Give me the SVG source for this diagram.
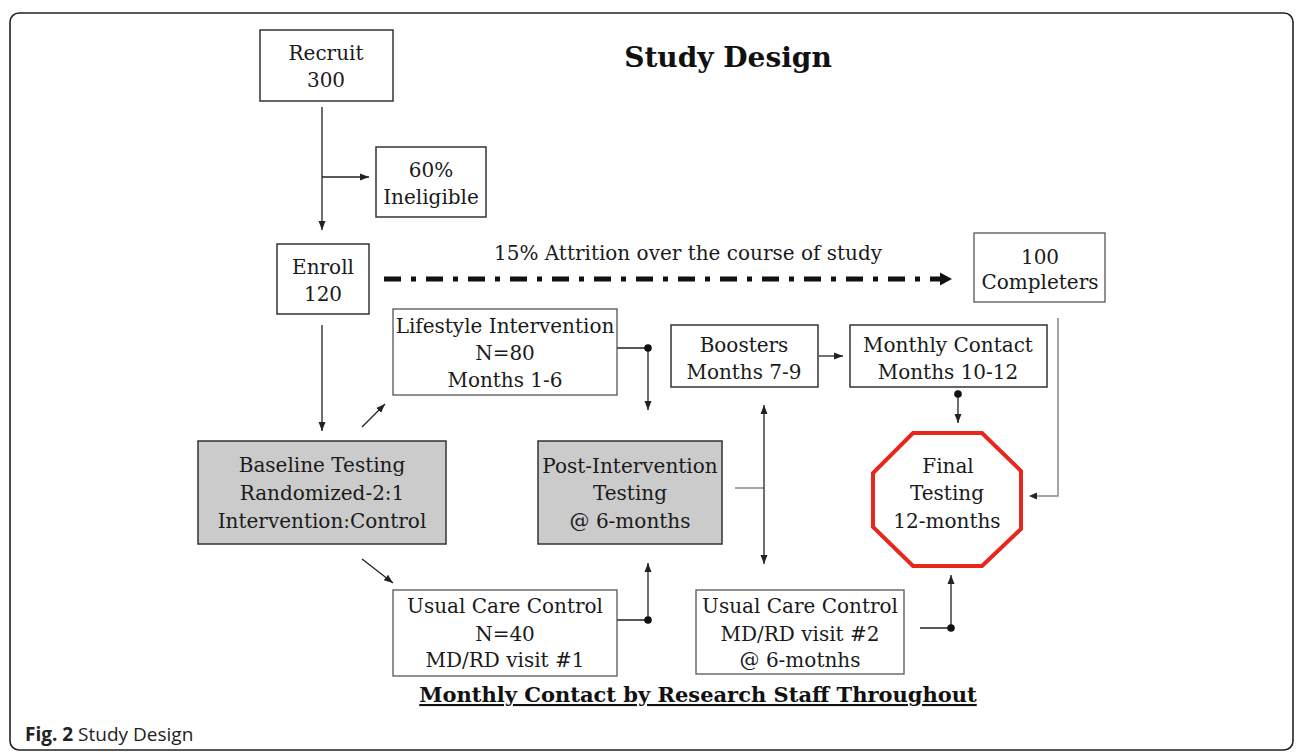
<svg xmlns="http://www.w3.org/2000/svg" width="1296" height="752" viewBox="0 0 1296 752">
<defs>
<marker id="ah" markerUnits="userSpaceOnUse" markerWidth="10" markerHeight="10" viewBox="0 0 10 10" refX="9" refY="5" orient="auto">
<path d="M0,1.5 L9,5 L0,8.5 Z" fill="#222"/>
</marker>
<style>
.box{fill:#fff;stroke:#333;stroke-width:1.5}
.boxl{fill:#fff;stroke:#555;stroke-width:1.3}
.gray{fill:#cbcbcb;stroke:#333;stroke-width:1.5}
.t{font-family:"DejaVu Serif","Liberation Serif",serif;font-size:20px;fill:#1a1a1a;text-anchor:middle}
.c{fill:none;stroke:#222;stroke-width:1.3}
.cg{fill:none;stroke:#888;stroke-width:1.5}
.dot{fill:#111}
</style>
</defs>
<rect x="10" y="13" width="1283" height="737" rx="9" fill="#fff" stroke="#222" stroke-width="1.6"/>
<text x="728" y="67" style="font-family:'DejaVu Serif','Liberation Serif',serif;font-weight:bold;font-size:28px;fill:#111;text-anchor:middle">Study Design</text>

<g id="connectors">
<path class="c" d="M322,107 V230" marker-end="url(#ah)"/>
<path class="c" d="M322,177 H369" marker-end="url(#ah)"/>
<path class="c" d="M322,325 V431" marker-end="url(#ah)"/>
<path fill="none" stroke="#111" stroke-width="5" stroke-dasharray="17 10 5 10" d="M384,279 H940"/>
<path d="M940,272.5 L952,279 L940,285.5 Z" fill="#111"/>
<path class="c" d="M362,427 L385,404" marker-end="url(#ah)"/>
<path class="c" d="M362,559 L393,583" marker-end="url(#ah)"/>
<path class="c" d="M617,348 H648 V410" marker-end="url(#ah)"/>
<circle class="dot" cx="648" cy="348" r="3.8"/>
<path class="c" d="M617,620 H648 V563" marker-end="url(#ah)"/>
<circle class="dot" cx="648" cy="620" r="3.8"/>
<path class="c" d="M819,356 H843" marker-end="url(#ah)"/>
<path class="c" d="M958,394 V423" marker-end="url(#ah)"/>
<circle class="dot" cx="958" cy="394" r="3.8"/>
<path class="cg" d="M1058,318 V496 H1031"/>
<path d="M1037,492.5 L1029,496 L1037,499.5 Z" fill="#222"/>
<path class="cg" d="M735,488 H764"/>
<path class="c" d="M764,488 V405" marker-end="url(#ah)"/>
<path class="c" d="M764,488 V564" marker-end="url(#ah)"/>
<path class="c" d="M920,628 H951 V575" marker-end="url(#ah)"/>
<circle class="dot" cx="951" cy="628" r="3.8"/>
</g>

<g id="recruit">
<rect class="box" x="260" y="30" width="133" height="71"/>
<text class="t" x="326" y="60">Recruit</text>
<text class="t" x="326" y="87">300</text>
</g>
<g id="ineligible">
<rect class="box" x="376" y="147" width="110" height="70"/>
<text class="t" x="431" y="177">60%</text>
<text class="t" x="431" y="204">Ineligible</text>
</g>
<g id="enroll">
<rect class="box" x="277" y="244" width="92" height="70"/>
<text class="t" x="323" y="274">Enroll</text>
<text class="t" x="323" y="301">120</text>
</g>
<g id="attrition">
<text class="t" x="688" y="260">15% Attrition over the course of study</text>
</g>
<g id="completers">
<rect class="boxl" x="974" y="233" width="131" height="69"/>
<text class="t" x="1040" y="264">100</text>
<text class="t" x="1040" y="289">Completers</text>
</g>
<g id="lifestyle">
<rect class="boxl" x="393" y="309" width="224" height="86"/>
<text class="t" x="505" y="333">Lifestyle Intervention</text>
<text class="t" x="505" y="360">N=80</text>
<text class="t" x="505" y="387">Months 1-6</text>
</g>
<g id="boosters">
<rect class="box" x="671" y="325" width="147" height="62"/>
<text class="t" x="744" y="352">Boosters</text>
<text class="t" x="744" y="379">Months 7-9</text>
</g>
<g id="monthly">
<rect class="box" x="850" y="325" width="197" height="62"/>
<text class="t" x="948" y="352">Monthly Contact</text>
<text class="t" x="948" y="379">Months 10-12</text>
</g>
<g id="baseline">
<rect class="gray" x="198" y="441" width="248" height="103"/>
<text class="t" x="322" y="472">Baseline Testing</text>
<text class="t" x="322" y="500">Randomized-2:1</text>
<text class="t" x="322" y="528">Intervention:Control</text>
</g>
<g id="post">
<rect class="gray" x="538" y="441" width="184" height="103"/>
<text class="t" x="630" y="473">Post-Intervention</text>
<text class="t" x="630" y="500">Testing</text>
<text class="t" x="630" y="528">@ 6-months</text>
</g>
<g id="final">
<polygon points="913,433 982,433 1021,471 1021,529 982,566 913,566 873,527 873,473" fill="#fff" stroke="#e8261c" stroke-width="4"/>
<text class="t" x="948" y="473">Final</text>
<text class="t" x="947" y="500">Testing</text>
<text class="t" x="947" y="528">12-months</text>
</g>
<g id="usual1">
<rect class="boxl" x="393" y="590" width="224" height="86"/>
<text class="t" x="505" y="613">Usual Care Control</text>
<text class="t" x="505" y="641">N=40</text>
<text class="t" x="505" y="667">MD/RD visit #1</text>
</g>
<g id="usual2">
<rect class="boxl" x="696" y="590" width="208" height="84"/>
<text class="t" x="800" y="613">Usual Care Control</text>
<text class="t" x="800" y="641">MD/RD visit #2</text>
<text class="t" x="800" y="667">@ 6-motnhs</text>
</g>
<g id="footer">
<text x="698" y="702" style="font-family:'DejaVu Serif','Liberation Serif',serif;font-weight:bold;font-size:21px;fill:#111;text-anchor:middle;text-decoration:underline">Monthly Contact by Research Staff Throughout</text>
</g>
<text x="25" y="741" style="font-family:'Open Sans','Noto Sans',sans-serif;font-size:19px;fill:#222"><tspan font-weight="bold">Fig. 2</tspan> Study Design</text>
</svg>
